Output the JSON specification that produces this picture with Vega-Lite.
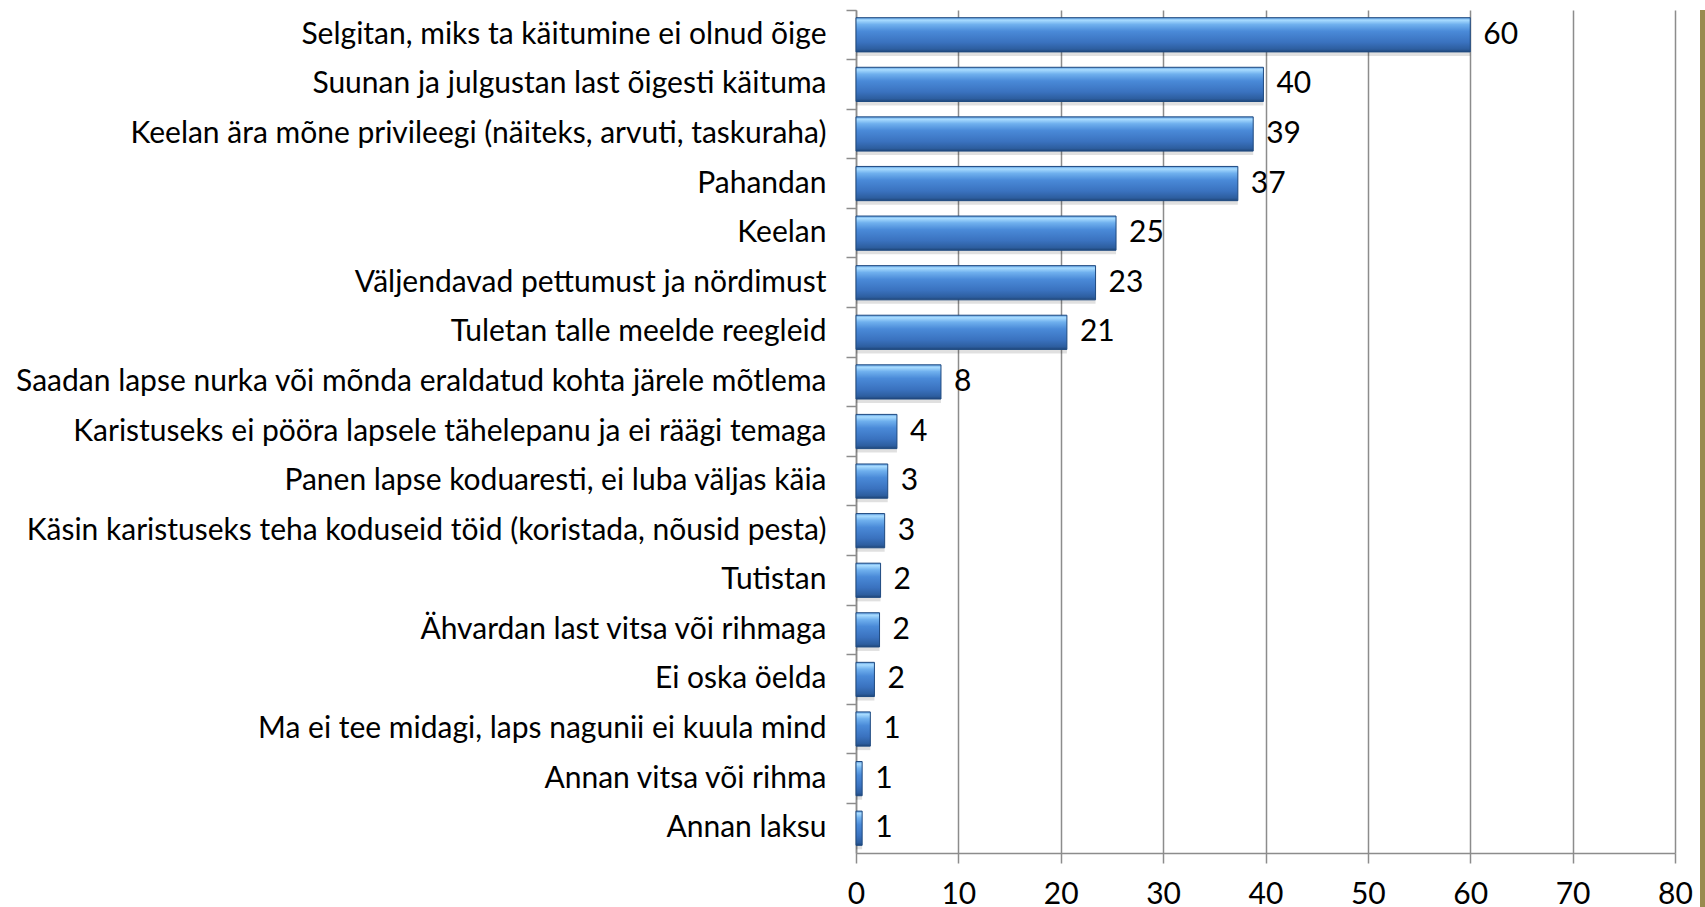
{
  "$schema": "https://vega.github.io/schema/vega-lite/v6.json",
  "padding": {"left": 0, "top": 9, "right": 0, "bottom": 0},
  "background": "white",
  "config": {"font": "Lato", "view": {"stroke": null}},
  "bounds": "flush",
  "spacing": 25,
  "hconcat": [
    {
      "width": 819,
      "height": 843,
      "data": {
        "values": [
          {"cat": "Selgitan, miks ta käitumine ei olnud õige", "v": 60, "lab": "60"},
          {"cat": "Suunan ja julgustan last õigesti käituma", "v": 39.8, "lab": "40"},
          {"cat": "Keelan ära mõne privileegi (näiteks, arvuti, taskuraha)", "v": 38.8, "lab": "39"},
          {"cat": "Pahandan", "v": 37.3, "lab": "37"},
          {"cat": "Keelan", "v": 25.4, "lab": "25"},
          {"cat": "Väljendavad pettumust ja nördimust", "v": 23.4, "lab": "23"},
          {"cat": "Tuletan talle meelde reegleid", "v": 20.6, "lab": "21"},
          {"cat": "Saadan lapse nurka või mõnda eraldatud kohta järele mõtlema", "v": 8.3, "lab": "8"},
          {"cat": "Karistuseks ei pööra lapsele tähelepanu ja ei räägi temaga", "v": 4.0, "lab": "4"},
          {"cat": "Panen lapse koduaresti, ei luba väljas käia", "v": 3.1, "lab": "3"},
          {"cat": "Käsin karistuseks teha koduseid töid (koristada, nõusid pesta)", "v": 2.8, "lab": "3"},
          {"cat": "Tutistan", "v": 2.4, "lab": "2"},
          {"cat": "Ähvardan last vitsa või rihmaga", "v": 2.3, "lab": "2"},
          {"cat": "Ei oska öelda", "v": 1.8, "lab": "2"},
          {"cat": "Ma ei tee midagi, laps nagunii ei kuula mind", "v": 1.4, "lab": "1"},
          {"cat": "Annan vitsa või rihma", "v": 0.6, "lab": "1"},
          {"cat": "Annan laksu", "v": 0.6, "lab": "1"}
        ]
      },
      "encoding": {
        "y": {
          "field": "cat",
          "type": "nominal",
          "sort": null,
          "scale": {"paddingInner": 0.31, "paddingOuter": 0.155},
          "axis": {
            "title": null,
            "labelFont": "Lato",
            "labelFontSize": 30,
            "labelColor": "black",
            "labelPadding": 20,
            "labelLimit": 0,
            "tickSize": 10,
            "tickColor": "#8c8c8c",
            "tickWidth": 1.5,
            "domainColor": "#8c8c8c",
            "domainWidth": 1.5,
            "bandPosition": -0.2246,
            "minExtent": 856,
            "maxExtent": 856
          }
        }
      },
      "layer": [
        {
          "mark": {"type": "bar", "color": "black", "opacity": 0.12, "yOffset": 4},
          "encoding": {
            "x": {
              "field": "v",
              "type": "quantitative",
              "scale": {"domain": [0, 80], "nice": false},
              "axis": {
                "title": null,
                "values": [0, 10, 20, 30, 40, 50, 60, 70, 80],
                "grid": true,
                "gridColor": "#8c8c8c",
                "gridWidth": 1.5,
                "domainColor": "#8c8c8c",
                "domainWidth": 1.5,
                "tickColor": "#8c8c8c",
                "tickWidth": 1.5,
                "tickSize": 10,
                "labelFont": "Lato",
                "labelFontSize": 30,
                "labelColor": "black",
                "labelPadding": 16,
                "labelFlush": false
              }
            }
          }
        },
        {
          "mark": {
            "type": "bar",
            "color": {
              "gradient": "linear",
              "x1": 0, "y1": 0, "x2": 0, "y2": 1,
              "stops": [
                {"offset": 0, "color": "#5a9be0"},
                {"offset": 0.07, "color": "#a9dcff"},
                {"offset": 0.2, "color": "#6fb0ee"},
                {"offset": 0.4, "color": "#4a8ad8"},
                {"offset": 0.72, "color": "#3a72bf"},
                {"offset": 0.92, "color": "#2d5e9f"},
                {"offset": 1, "color": "#1f4679"}
              ]
            },
            "stroke": "#1f4a80",
            "strokeWidth": 1
          },
          "encoding": {"x": {"field": "v", "type": "quantitative"}}
        },
        {
          "mark": {"type": "text", "align": "left", "baseline": "middle", "dx": 13, "font": "Lato", "fontSize": 30, "color": "black"},
          "encoding": {
            "x": {"field": "v", "type": "quantitative"},
            "text": {"field": "lab"}
          }
        }
      ]
    },
    {
      "width": 5,
      "height": 898,
      "view": {"fill": "#998B4F", "stroke": null},
      "data": {"values": [{"a": 1}]},
      "mark": {"type": "rect", "color": "#998B4F"},
      "encoding": {
        "x": {"datum": 0, "type": "quantitative", "scale": {"domain": [0, 1]}, "axis": null},
        "x2": {"datum": 1},
        "y": {"datum": 0, "type": "quantitative", "scale": {"domain": [0, 1]}, "axis": null},
        "y2": {"datum": 1}
      }
    }
  ]
}
